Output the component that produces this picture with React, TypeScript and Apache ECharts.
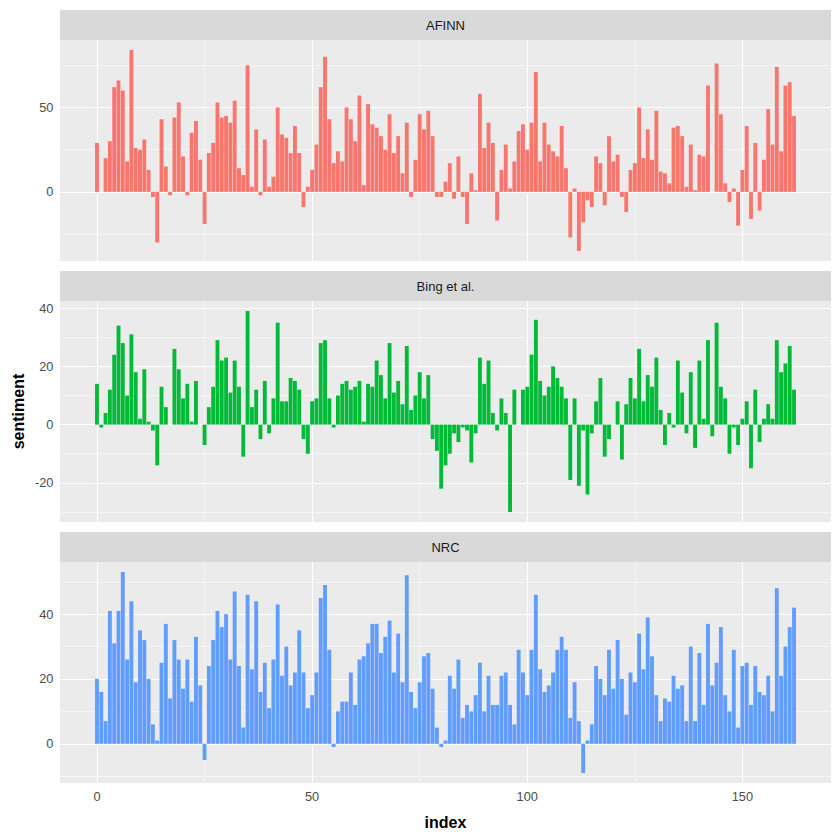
import React, { useEffect, useRef } from "react";
import * as echarts from "echarts";

// ---- data (net sentiment per 80-line index) ----
const afinn = [
  29, 0, 20, 30, 62, 66, 60, 18, 84, 26,
  25, 31, 13, -3, -30, 43, 15, -2, 44, 53,
  21, -2, 35, 42, 19, -19, 23, 29, 53, 44,
  45, 41, 54, 14, 10, 75, 3, 37, -2, 31,
  3, 9, 50, 34, 32, 23, 39, 23, -9, 3,
  13, 28, 62, 80, 43, 17, 24, 18, 50, 43,
  30, 57, 4, 52, 40, 38, 33, 25, 46, 23,
  33, 11, 41, -3, 19, 46, 37, 48, 33, -3,
  -3, 6, 17, -4, 21, -3, -19, 11, 1, 58,
  26, 41, 29, -17, 13, 28, 2, 18, 36, 40,
  25, 41, 71, 18, 41, 28, 24, 21, 39, 14,
  -27, 2, -35, -18, -5, -9, 21, 17, -8, 33,
  18, 22, -3, -12, 13, 17, 50, 20, 37, 19,
  48, 12, 11, 5, 38, 39, 33, 3, 28, 1,
  22, 21, 63, 0, 76, 46, 5, -6, 2, -20,
  13, 39, -16, 29, -11, 19, 49, 28, 74, 24,
  63, 65, 45,
];

const bing = [
  14, -1, 4, 12, 24, 34, 28, 10, 31, 18,
  2, 19, 1, -2, -14, 13, 6, 0, 26, 19,
  9, 14, 1, 15, 0, -7, 6, 13, 29, 22,
  23, 11, 22, 13, -11, 39, 6, 12, -5, 15,
  -3, 9, 35, 8, 8, 16, 15, 12, -5, -10,
  8, 9, 28, 29, 9, -1, 10, 14, 15, 12,
  13, 15, 1, 14, 13, 22, 17, 9, 28, 11,
  15, 7, 27, 5, 10, 18, 9, 17, -5, -9,
  -22, -14, -10, -3, -6, -1, -2, -13, -3, 23,
  14, 22, 4, -2, 9, 4, -30, 12, 0, 12,
  13, 24, 36, 15, 10, 13, 20, 16, 13, 9,
  -19, 9, -21, -2, -24, -3, 8, 16, -11, -5,
  0, 8, -12, 7, 16, 9, 26, 8, 17, 13,
  23, 5, -7, 4, -1, 22, 11, -3, 18, -8,
  22, 2, 29, -4, 35, 13, 9, -10, -1, -7,
  2, 8, -15, 12, -6, 2, 7, 2, 29, 18,
  21, 27, 12,
];

const nrc = [
  20, 16, 7, 41, 31, 41, 53, 26, 44, 19,
  35, 32, 20, 6, 1, 25, 37, 14, 32, 26,
  17, 26, 13, 33, 18, -5, 24, 32, 41, 36,
  40, 26, 47, 24, 5, 46, 23, 44, 16, 25,
  11, 26, 43, 21, 30, 18, 22, 35, 22, 11,
  15, 22, 45, 49, 29, -1, 10, 13, 13, 22,
  12, 26, 27, 31, 37, 37, 28, 33, 38, 22,
  34, 19, 52, 16, 11, 19, 27, 28, 17, 5,
  -1, 1, 21, 17, 26, 8, 12, 10, 15, 25,
  10, 21, 12, 12, 21, 22, 12, 6, 29, 22,
  15, 29, 46, 23, 16, 18, 22, 29, 33, 29,
  8, 19, 7, -9, 1, 6, 24, 20, 15, 29,
  17, 32, 20, 9, 22, 19, 34, 23, 39, 27,
  15, 7, 14, 13, 21, 17, 18, 7, 30, 7,
  28, 12, 37, 18, 25, 36, 15, 10, 29, 5,
  24, 25, 12, 24, 16, 15, 21, 10, 48, 21,
  30, 36, 42,
];

const lexicons = ["AFINN", "Bing et al.", "NRC"];
const seriesValues = [afinn, bing, nrc];
const fillColors = ["#F8766D", "#00BA38", "#619CFF"];

const xMajorTicks = [0, 50, 100, 150];
const xMinorTicks = [25, 75, 125];
const yMajorTicks = [
  [0, 50],
  [-20, 0, 20, 40],
  [0, 20, 40],
];
const yMinorTicks = [
  [-25, 25, 75],
  [-30, -10, 10, 30],
  [-10, 10, 30, 50],
];

const FONT = "'Liberation Sans', Arial, Helvetica, sans-serif";

// ggplot-style 5% expansion of the data range
function expand(lo: number, hi: number): [number, number] {
  const r = hi - lo;
  return [lo - 0.05 * r, hi + 0.05 * r];
}

export default function App() {
  const ref = useRef<HTMLDivElement>(null);

  useEffect(() => {
    if (!ref.current) return;
    const chart = echarts.init(ref.current, undefined, { renderer: "svg" });

    const PANEL_LEFT = 60;
    const PANEL_W = 771;
    const PANEL_H = 221;
    const STRIP_H = 30;
    const panelTops = [40, 301, 562];
    const TICK_FS = 12.8;
    const STRIP_FS = 13;
    const TITLE_FS = 16;

    const maxIndex = Math.max(...seriesValues.map((s) => s.length)) - 1;
    const [xMin, xMax] = expand(-0.45, maxIndex + 0.45);

    const grids = panelTops.map((top) => ({
      left: PANEL_LEFT,
      top,
      width: PANEL_W,
      height: PANEL_H,
      show: true,
      backgroundColor: "#EBEBEB",
      borderWidth: 0,
      containLabel: false,
    }));

    const xAxes = panelTops.map((_, i) => ({
      type: "value",
      gridIndex: i,
      min: xMin,
      max: xMax,
      axisLine: { show: false },
      splitLine: { show: false },
      axisTick: {
        show: i === 2,
        customValues: xMajorTicks,
        length: 3.7,
        lineStyle: { color: "#333333", width: 1.07 },
      },
      axisLabel: {
        show: i === 2,
        customValues: xMajorTicks,
        margin: 6.6,
        color: "#4D4D4D",
        fontSize: TICK_FS,
        fontFamily: FONT,
      },
    }));

    const yAxes = seriesValues.map((vals, i) => {
      const [lo, hi] = expand(Math.min(0, ...vals), Math.max(0, ...vals));
      return {
        type: "value",
        gridIndex: i,
        min: lo,
        max: hi,
        axisLine: { show: false },
        splitLine: { show: false },
        axisTick: {
          show: true,
          customValues: yMajorTicks[i],
          length: 3.7,
          lineStyle: { color: "#333333", width: 1.07 },
        },
        axisLabel: {
          show: true,
          customValues: yMajorTicks[i],
          margin: 6.6,
          color: "#4D4D4D",
          fontSize: TICK_FS,
          fontFamily: FONT,
        },
      };
    });

    const gridLine = (w: number) => ({ color: "#FFFFFF", width: w, type: "solid" });

    const series = seriesValues.map((vals, i) => ({
      type: "bar",
      name: lexicons[i],
      xAxisIndex: i,
      yAxisIndex: i,
      data: vals.map((v, k) => [k, v]),
      barWidth: "90%",
      itemStyle: { color: fillColors[i] },
      z: 2,
      silent: true,
      markLine: {
        silent: true,
        symbol: "none",
        z: 1,
        animation: false,
        label: { show: false },
        emphasis: { disabled: true },
        data: [
          ...yMinorTicks[i].map((v) => ({ yAxis: v, lineStyle: gridLine(0.53) })),
          ...xMinorTicks.map((v) => ({ xAxis: v, lineStyle: gridLine(0.53) })),
          ...yMajorTicks[i].map((v) => ({ yAxis: v, lineStyle: gridLine(1.07) })),
          ...xMajorTicks.map((v) => ({ xAxis: v, lineStyle: gridLine(1.07) })),
        ],
      },
    }));

    const graphic: any[] = [];
    lexicons.forEach((name, i) => {
      graphic.push({
        type: "rect",
        shape: { x: PANEL_LEFT, y: panelTops[i] - STRIP_H, width: PANEL_W, height: STRIP_H },
        style: { fill: "#D9D9D9" },
        silent: true,
      });
      graphic.push({
        type: "text",
        x: PANEL_LEFT + PANEL_W / 2,
        y: panelTops[i] - STRIP_H / 2,
        silent: true,
        style: {
          text: name,
          fill: "#1A1A1A",
          fontSize: STRIP_FS,
          fontFamily: FONT,
          align: "center",
          verticalAlign: "middle",
        },
      });
    });
    graphic.push({
      type: "text",
      x: 18,
      y: (panelTops[0] + panelTops[2] + PANEL_H) / 2,
      rotation: Math.PI / 2,
      silent: true,
      style: {
        text: "sentiment",
        fill: "#000000",
        fontSize: TITLE_FS,
        fontWeight: "bold",
        fontFamily: FONT,
        align: "center",
        verticalAlign: "middle",
      },
    });
    graphic.push({
      type: "text",
      x: PANEL_LEFT + PANEL_W / 2,
      y: 822,
      silent: true,
      style: {
        text: "index",
        fill: "#000000",
        fontSize: TITLE_FS,
        fontWeight: "bold",
        fontFamily: FONT,
        align: "center",
        verticalAlign: "middle",
      },
    });

    chart.setOption({
      animation: false,
      backgroundColor: "#FFFFFF",
      grid: grids,
      xAxis: xAxes,
      yAxis: yAxes,
      series,
      graphic,
    } as any);

    return () => chart.dispose();
  }, []);

  return (
    <div
      ref={ref}
      style={{ position: "fixed", left: 0, top: 0, width: 840, height: 840, background: "#FFFFFF" }}
    />
  );
}
